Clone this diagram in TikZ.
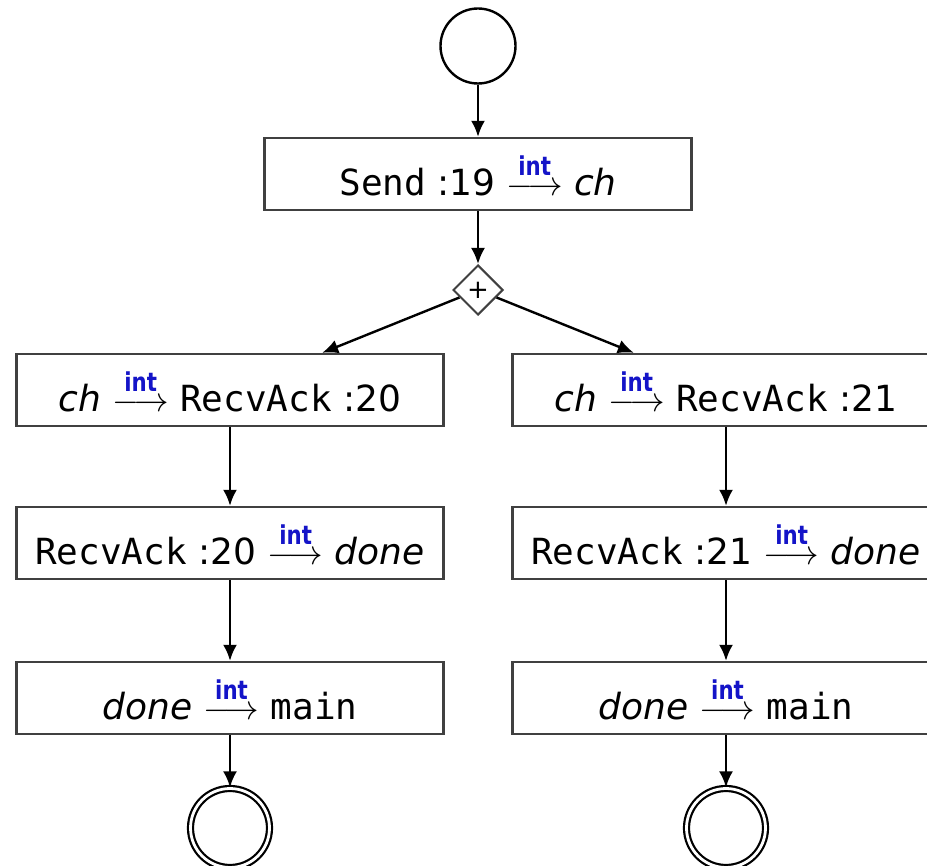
\documentclass[tikz,border=0pt]{standalone}
\usepackage{amsmath}
\usepackage{graphicx}
\usepackage{fontspec}
\setmainfont{DejaVu Sans}
\setmonofont{DejaVu Sans Mono}
\usetikzlibrary{shapes.geometric,arrows.meta}
\definecolor{intblue}{RGB}{20,20,200}
% labelled channel arrow
\newcommand\chanarrow{$\overset{\text{\fontsize{13}{13}\selectfont\bfseries\color{intblue}\scalebox{0.82}[1]{int}}}{\longrightarrow}$}

\begin{document}
\begin{tikzpicture}[x=0.5pt,y=-0.5pt,
  act/.style={draw=black!75, line width=1.2pt, fill=white,
    minimum width=213.5pt, minimum height=36pt, inner sep=0pt,
    font=\fontsize{18}{22}\selectfont},
  initial/.style={circle, draw, line width=1.2pt, minimum size=37.5pt, inner sep=0pt},
  final/.style={circle, draw, line width=1.1pt, double=white, double distance=1.4pt,
    minimum size=39.5pt, inner sep=0pt},
  forknode/.style={diamond, draw=black!75, line width=1pt, fill=white, aspect=1,
    minimum width=25pt, minimum height=25pt, inner sep=0pt,
    font=\fontsize{13}{13}\selectfont},
  flow/.style={-{Latex[length=8pt,width=7pt]}, line width=1.2pt}]

\clip (0,0) rectangle (927,866);
\fill[white] (0,0) rectangle (927,866);

\node[initial] (start) at (478,46) {};
\node[act] (send) at (478,174) {\texttt{Send} :19 \chanarrow{} \textit{ch}};
\node[forknode] (fork) at (478,290) {+};

\node[act] (l1) at (230,390) {\textit{ch} \chanarrow{} \texttt{RecvAck} :20};
\node[act] (l2) at (230,543) {\texttt{RecvAck} :20 \chanarrow{} \textit{done}};
\node[act] (l3) at (230,698) {\textit{done} \chanarrow{} \texttt{main}};
\node[final] (endl) at (230,828) {};

\node[act] (r1) at (726,390) {\textit{ch} \chanarrow{} \texttt{RecvAck} :21};
\node[act] (r2) at (726,543) {\texttt{RecvAck} :21 \chanarrow{} \textit{done}};
\node[act] (r3) at (726,698) {\textit{done} \chanarrow{} \texttt{main}};
\node[final] (endr) at (726,828) {};

\draw[flow] (start) -- (send);
\draw[flow] (send) -- (fork);
\draw[flow] (fork) -- (l1);
\draw[flow] (fork) -- (r1);
\draw[flow] (l1) -- (l2);
\draw[flow] (l2) -- (l3);
\draw[flow] (l3) -- (endl);
\draw[flow] (r1) -- (r2);
\draw[flow] (r2) -- (r3);
\draw[flow] (r3) -- (endr);
\end{tikzpicture}
\end{document}
